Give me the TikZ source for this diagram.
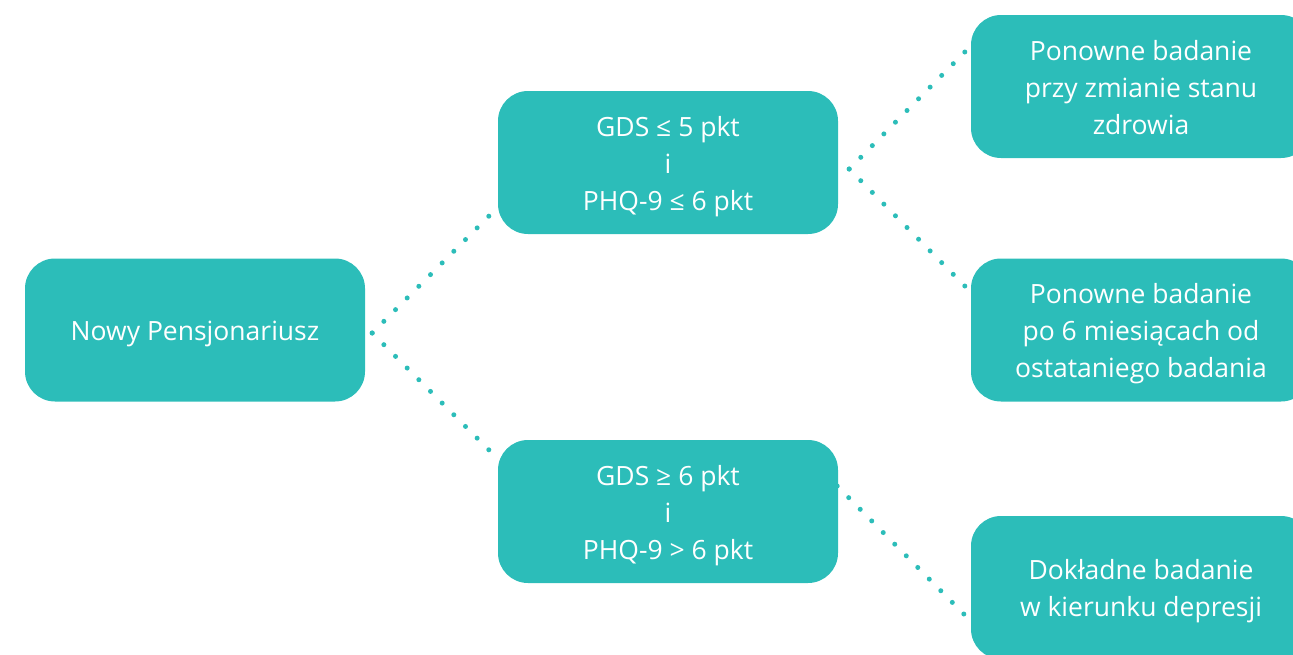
\documentclass[tikz,border=0pt]{standalone}
\usepackage{fontspec}
\setmainfont{Open Sans}
\usetikzlibrary{decorations.markings}
\definecolor{teal1}{HTML}{2CBDB9}
\newcommand\bxtext[1]{\raisebox{-3.5pt}[\height][\depth]{\begin{tabular}{@{}c@{}}#1\end{tabular}}}
\begin{document}
\begin{tikzpicture}[x=1pt,y=-1pt,
  box/.style={fill=teal1,rounded corners=30pt,minimum width=340pt,minimum height=143pt,
    text=white,inner sep=0pt,font=\fontsize{26.5}{37}\selectfont},
  dotline/.style={decoration={markings,
      mark=between positions 0 and 0.99 step #1 with {\fill[teal1] (0,0) circle (2.5pt);},
      mark=at position 1 with {\fill[teal1] (0,0) circle (2.5pt);}},
      postaction={decorate}},
  dotline/.default=0.1]
\useasboundingbox (0,0) rectangle (1293,654);
\node[box] (n)  at (195,330)   {\bxtext{Nowy Pensjonariusz}};
\node[box] (g1) at (668,162.5) {\bxtext{GDS ≤ 5 pkt\\i\\PHQ-9 ≤ 6 pkt}};
\node[box] (g2) at (668,511.5) {\bxtext{GDS ≥ 6 pkt\\i\\PHQ-9 > 6 pkt}};
\node[box] (r1) at (1141,86.5) {\bxtext{Ponowne badanie\\przy zmianie stanu\\zdrowia}};
\node[box] (r2) at (1141,330)  {\bxtext{Ponowne badanie\\po 6 miesiącach od\\ostataniego badania}};
\node[box] (r3) at (1141,587.5){\bxtext{Dokładne badanie\\w kierunku depresji}};
\path[dotline] ([shift={(7,3)}]n.east) -- ([shift={(-9,-18)}]g1.south west);
\path[dotline] ([shift={(7,3)}]n.east) -- ([shift={(-9,10)}]g2.north west);
\path[dotline] ([shift={(11,6.5)}]g1.east) -- ([shift={(-6,-34.5)}]r1.west);
\path[dotline] ([shift={(11,6.5)}]g1.east) -- ([shift={(-6,-44)}]r2.west);
\path[dotline=0.090909] ([shift={(-1,-25.5)}]g2.east) -- ([shift={(-7,26.5)}]r3.west);
\end{tikzpicture}
\end{document}
